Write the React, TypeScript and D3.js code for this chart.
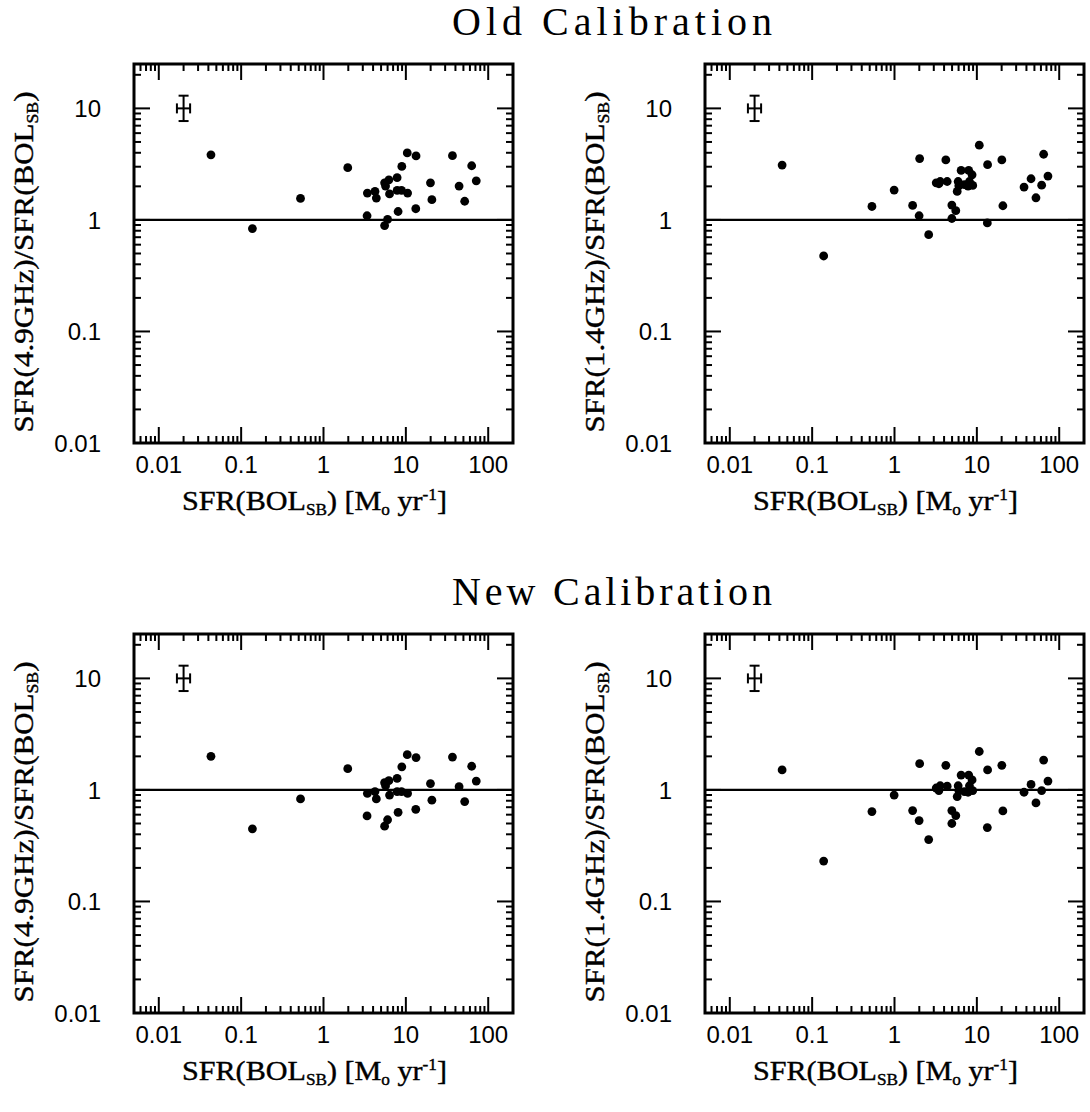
import React from 'react';
import * as d3 from 'd3';

// ---------- data ----------
const xMajorTicks = [0.01, 0.1, 1, 10, 100];
const xTickLabels = ['0.01', '0.1', '1', '10', '100'];
const yMajorTicks = [0.01, 0.1, 1, 10];
const yTickLabels = ['0.01', '0.1', '1', '10'];

// SFR(BOL_SB) for the 4.9 GHz sample
const sfrBol49 = [0.043, 0.137, 0.526, 1.97, 3.41, 4.22, 4.38, 3.38, 5.52, 5.67, 6.22, 7.83, 6.34, 7.83, 8.85, 10.5, 8.93, 10.4, 13.3, 8.05, 13.2, 6.0, 5.52, 19.9, 20.7, 36.8, 63.0, 71.6, 44.3, 51.8];
const ratioOld49 = [3.83, 0.836, 1.56, 2.94, 1.74, 1.80, 1.57, 1.09, 2.15, 2.01, 2.29, 2.39, 1.71, 1.84, 1.84, 1.74, 3.02, 3.99, 3.75, 1.19, 1.26, 1.01, 0.889, 2.15, 1.52, 3.77, 3.06, 2.24, 2.01, 1.47];
const ratioNew49 = [2.0, 0.448, 0.83, 1.55, 0.93, 0.966, 0.83, 0.585, 1.16, 1.09, 1.21, 1.27, 0.90, 0.966, 0.966, 0.93, 1.61, 2.07, 1.95, 0.63, 0.67, 0.54, 0.473, 1.14, 0.81, 1.97, 1.63, 1.20, 1.07, 0.787];

// SFR(BOL_SB) for the 1.4 GHz sample
const sfrBol14 = [0.0432, 0.138, 0.532, 0.99, 1.66, 1.99, 2.02, 2.60, 3.21, 3.46, 3.59, 4.36, 4.20, 4.97, 5.55, 4.97, 5.77, 5.93, 6.04, 6.44, 7.07, 7.96, 7.82, 8.75, 8.13, 8.91, 10.7, 13.5, 13.4, 20.1, 20.7, 37.4, 45.5, 52.2, 61.2, 64.7, 73.0];
const ratioOld14 = [3.10, 0.475, 1.32, 1.85, 1.35, 1.09, 3.55, 0.738, 2.15, 2.11, 2.21, 2.21, 3.45, 1.36, 1.21, 1.03, 1.80, 2.21, 2.02, 2.78, 2.07, 2.78, 2.01, 2.54, 2.21, 2.04, 4.68, 3.13, 0.94, 3.45, 1.34, 1.97, 2.34, 1.58, 2.05, 3.88, 2.47];
const ratioNew14 = [1.51, 0.23, 0.64, 0.90, 0.653, 0.531, 1.72, 0.359, 1.04, 0.987, 1.09, 1.08, 1.66, 0.653, 0.589, 0.50, 0.871, 1.09, 0.987, 1.36, 0.966, 1.36, 0.953, 1.23, 1.09, 0.987, 2.21, 1.51, 0.46, 1.66, 0.648, 0.953, 1.12, 0.765, 0.987, 1.85, 1.20];

// typical error bar: [low, centre, high]
const errX = [0.0166, 0.02, 0.024];
const errY = [7.7, 10, 13];

const xDomain = [0.005, 200];
const yDomain = [0.01, 25];

const sectionTitles = ['Old Calibration', 'New Calibration'];
const freqLabels = ['4.9GHz', '1.4GHz'];

// ---------- layout ----------
const W = 1090, H = 1112;
const PW = 379, PH = 379;
const colX = [134, 705];
const rowY = [64, 634];

const SERIF = "'Liberation Serif', 'DejaVu Serif', serif";
const SANS = "'Liberation Sans', Arial, sans-serif";

function Panel({ x0, y0, xs, ys, freq }: { x0: number; y0: number; xs: number[]; ys: number[]; freq: string }) {
  const x = d3.scaleLog().domain(xDomain).range([x0, x0 + PW]);
  const y = d3.scaleLog().domain(yDomain).range([y0 + PH, y0]);
  const xt = x.ticks();
  const yt = y.ticks();
  const isMajor = (v: number) => Math.abs(Math.log10(v) - Math.round(Math.log10(v))) < 1e-6;
  const maj = 16, mn = 7;
  const x1 = x0 + PW, y1 = y0 + PH;
  return (
    <g>
      {xt.map((v, i) => {
        const px = x(v);
        if (px <= x0 + 1 || px >= x1 - 1) return null;
        const L = isMajor(v) ? maj : mn;
        return (
          <g key={'xt' + i} stroke="#000" strokeWidth={2}>
            <line x1={px} x2={px} y1={y1} y2={y1 - L} />
            <line x1={px} x2={px} y1={y0} y2={y0 + L} />
          </g>
        );
      })}
      {yt.map((v, i) => {
        const py = y(v);
        if (py <= y0 + 1 || py >= y1 - 1) return null;
        const L = isMajor(v) ? maj : mn;
        return (
          <g key={'yt' + i} stroke="#000" strokeWidth={2}>
            <line x1={x0} x2={x0 + L} y1={py} y2={py} />
            <line x1={x1} x2={x1 - L} y1={py} y2={py} />
          </g>
        );
      })}
      <rect x={x0} y={y0} width={PW} height={PH} fill="none" stroke="#000" strokeWidth={3} />
      <line x1={x0} x2={x1} y1={y(1)} y2={y(1)} stroke="#000" strokeWidth={2.2} />
      {xMajorTicks.map((v, i) => (
        <text key={'xl' + i} x={x(v)} y={y1 + 30} textAnchor="middle" fontFamily={SANS} fontSize={24}>{xTickLabels[i]}</text>
      ))}
      {yMajorTicks.map((v, i) => (
        <text key={'yl' + i} x={x0 - 33} y={y(v) + 9} textAnchor="end" fontFamily={SANS} fontSize={24}>{yTickLabels[i]}</text>
      ))}
      <g stroke="#000" strokeWidth={2} fill="none">
        <line x1={x(errX[1])} x2={x(errX[1])} y1={y(errY[0])} y2={y(errY[2])} />
        <line x1={x(errX[1]) - 5} x2={x(errX[1]) + 5} y1={y(errY[0])} y2={y(errY[0])} />
        <line x1={x(errX[1]) - 5} x2={x(errX[1]) + 5} y1={y(errY[2])} y2={y(errY[2])} />
        <line x1={x(errX[0])} x2={x(errX[2])} y1={y(errY[1])} y2={y(errY[1])} />
        <line x1={x(errX[0])} x2={x(errX[0])} y1={y(errY[1]) - 5} y2={y(errY[1]) + 5} />
        <line x1={x(errX[2])} x2={x(errX[2])} y1={y(errY[1]) - 5} y2={y(errY[1]) + 5} />
      </g>
      {xs.map((v, i) => (
        <circle key={'p' + i} cx={x(v)} cy={y(ys[i])} r={4.4} fill="#000" />
      ))}
      <text x={x0 + 48} y={y1 + 67} fontFamily={SERIF} fontSize={28}
        textLength={265} lengthAdjust="spacingAndGlyphs" stroke="#000" strokeWidth={0.4}>
        SFR(BOL<tspan dy={5} fontSize={16}>SB</tspan>
        <tspan dy={-5}>) [M</tspan>
        <tspan dy={5} fontSize={16}>o</tspan>
        <tspan dy={-5}> yr</tspan>
        <tspan dy={-10} fontSize={16}>-1</tspan>
        <tspan dy={10}>]</tspan>
      </text>
      <g transform={`translate(${x0 - 101},${y0 + PH / 2 + 8}) rotate(-90)`}>
        <text x={-171} y={0} fontFamily={SERIF} fontSize={28}
          textLength={341} lengthAdjust="spacingAndGlyphs" stroke="#000" strokeWidth={0.4}>
          SFR({freq})/SFR(BOL<tspan dy={5} fontSize={16}>SB</tspan>
          <tspan dy={-5}>)</tspan>
        </text>
      </g>
    </g>
  );
}

export default function App() {
  const rows = [
    { title: sectionTitles[0], a: ratioOld49, b: ratioOld14 },
    { title: sectionTitles[1], a: ratioNew49, b: ratioNew14 },
  ];
  return (
    <svg width={W} height={H} style={{ position: 'absolute', left: 0, top: 0, background: '#fff' }}>
      <rect x={0} y={0} width={W} height={H} fill="#fff" />
      {rows.map((r, ri) => (
        <g key={ri}>
          <text x={452} y={rowY[ri] - 29} fontFamily={SERIF} fontSize={40}
            textLength={320} lengthAdjust="spacing">{r.title}</text>
          <Panel x0={colX[0]} y0={rowY[ri]} xs={sfrBol49} ys={r.a} freq={freqLabels[0]} />
          <Panel x0={colX[1]} y0={rowY[ri]} xs={sfrBol14} ys={r.b} freq={freqLabels[1]} />
        </g>
      ))}
    </svg>
  );
}
